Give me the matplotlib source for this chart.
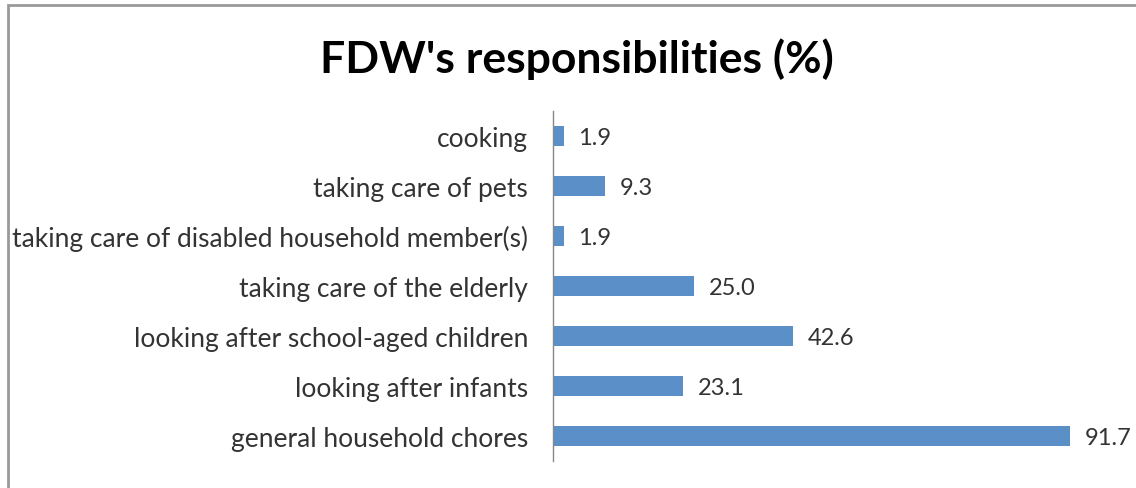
import matplotlib.pyplot as plt
from matplotlib.patches import Rectangle

# data, bottom to top as drawn
tasks = ['general household chores', 'looking after infants',
         'looking after school-aged children', 'taking care of the elderly',
         'taking care of disabled household member(s)', 'taking care of pets',
         'cooking']
percent = [91.7, 23.1, 42.6, 25.0, 1.9, 9.3, 1.9]

plt.rcParams['font.family'] = ['Lato', 'DejaVu Sans']

fig = plt.figure(figsize=(11.36, 4.89), dpi=100)
ax = fig.add_axes([0.4868, 0.0552, 0.4965, 0.716])

ypos = list(range(len(tasks)))
ax.barh(ypos, percent, height=0.4, color='#5b8fc8')
for y, v in zip(ypos, percent):
    ax.text(v + 2.6, y - 0.04, '%.1f' % v, va='center', ha='left', fontsize=17, color='#333333')

ax.set_xlim(0, 100)
ax.set_ylim(-0.5, len(tasks) - 0.5)
ax.set_yticks(ypos)
ax.set_yticklabels(tasks, fontsize=19, color='#333333')
ax.set_xticks([])
ax.tick_params(axis='y', length=0, pad=18)
for s in ['top', 'right', 'bottom']:
    ax.spines[s].set_visible(False)
ax.spines['left'].set_color('#888888')
ax.spines['left'].set_linewidth(1)

fig.text(0.5075, 0.88, "FDW's responsibilities (%)", ha='center', va='center',
         fontsize=32, fontweight='bold', color='black')

# outer frame from the source page
fig.patches.append(Rectangle((8 / 1136, -0.1), 1.2, 1 - 6 / 489 + 0.1,
                             transform=fig.transFigure, fill=False,
                             edgecolor='#999999', linewidth=2))

fig.savefig('out.png', dpi=100)
